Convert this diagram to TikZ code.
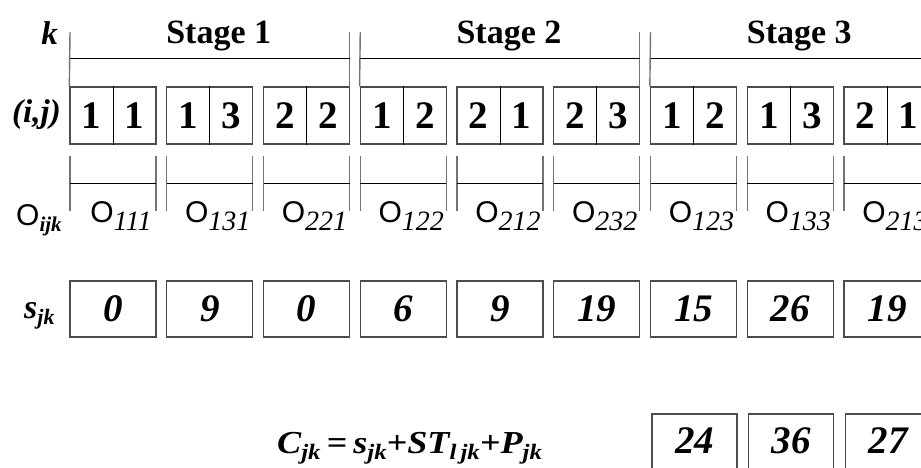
\documentclass[tikz,border=0pt]{standalone}
\usepackage{fontspec}
\setmainfont{Liberation Serif}
\newfontfamily\sansfam{Liberation Sans}
\newcommand\fsz[1]{\fontsize{#1}{#1}\selectfont}
\newcommand\lowsub[3]{\raisebox{-#1pt}{\fsz{#2}#3}}
\begin{document}
\begin{tikzpicture}[x=1pt,y=-1pt,
  boxline/.style={draw=black!70, line width=1.3pt},
  ijbox/.style={boxline, minimum width=86pt, minimum height=57pt, inner sep=0pt},
  valbox/.style={boxline, minimum width=86pt, minimum height=56pt, inner sep=0pt},
  cbox/.style={boxline, minimum width=85pt, minimum height=80pt, inner sep=0pt},
  divider/.style={draw=black, line width=0.8pt},
  vline/.style={draw=black!55, line width=1.4pt},
  hline/.style={draw=black, line width=0.9pt},
  digit/.style={inner sep=0pt, font=\fsz{39}\bfseries},
  valnum/.style={inner sep=0pt, font=\fsz{39}\bfseries\itshape},
  stagetext/.style={inner sep=0pt, anchor=base, font=\fsz{34}\bfseries},
  olabel/.style={inner sep=0pt, anchor=base},
  rowlabel/.style={inner sep=0pt, font=\fsz{33}\bfseries\itshape}]
\useasboundingbox (0,0) rectangle (921,467);
\clip (0,0) rectangle (921,467);
% row labels
\node[rowlabel] (labk) at (49.5,33.5) {k};
\node[rowlabel] (labij) at (36.5,115) {(i,j)};
\node[olabel, anchor=base west] (labO) at (16,225) {\sansfam\fsz{30}O\lowsub{6}{21}{\rmfamily\bfseries\itshape ijk}};
\node[olabel, anchor=base west] (labs) at (24,318) {\fsz{34}\bfseries\itshape s\lowsub{6}{22}{jk}};
% columns
\foreach \i/\a/\b/\o/\s in {0/1/1/111/0, 1/1/3/131/9, 2/2/2/221/0, 3/1/2/122/6, 4/2/1/212/9, 5/2/3/232/19, 6/1/2/123/15, 7/1/3/133/26, 8/2/1/213/19}{
  \pgfmathsetmacro\xl{70+96.75*\i}
  \pgfmathsetmacro\xc{\xl+43}
  \node[ijbox] (ij\i) at (\xc,115.5) {};
  \draw[divider] (ij\i.north) -- (ij\i.south);
  \node[digit] (ija\i) at (\xc-21.5,115.5) {\a};
  \node[digit] (ijb\i) at (\xc+21.5,115.5) {\b};
  \coordinate (ot\i) at (\xl,156);
  \coordinate (ob\i) at (\xl,211);
  \coordinate (otr\i) at (\xl+86,156);
  \coordinate (obr\i) at (\xl+86,211);
  \coordinate (om\i) at (\xl,183);
  \coordinate (omr\i) at (\xl+86,183);
  \draw[vline] (ot\i) -- (ob\i);
  \draw[vline] (otr\i) -- (obr\i);
  \draw[hline] (om\i) -- (omr\i);
  \node[olabel] (olab\i) at (\xc+8,222) {\sansfam\fsz{30}O\lowsub{8}{28}{\rmfamily\itshape\o}};
  \node[valbox] (s\i) at (\xc,309) {};
  \node[valnum] (sv\i) at (\xc,309) {\s};
}
% stage brackets
\foreach \k/\n in {0/1, 3/2, 6/3}{
  \pgfmathsetmacro\xl{70+96.75*\k}
  \pgfmathsetmacro\xr{\xl+96.75*2+86}
  \coordinate (st\n) at (\xl,32);
  \coordinate (str\n) at (\xr,32);
  \coordinate (sb\n) at (\xr,87);
  \coordinate (sh\n) at (\xl,58);
  \coordinate (shr\n) at (\xr,58);
  \draw[vline] (st\n) -- (ij\k.north west);
  \draw[vline] (str\n) -- (sb\n);
  \draw[hline] (sh\n) -- (shr\n);
  \node[stagetext] (stage\n) at ({(\xl+\xr)/2+9},43) {Stage \n};
}
% completion times
\foreach \i/\c in {6/24, 7/36, 8/27}{
  \pgfmathsetmacro\xc{70+96.75*\i+43}
  \node[cbox] (c\i) at (\xc+1,454) {};
  \node[valnum] (cv\i) at (\xc+1,441) {\c};
}
\node[inner sep=0pt, anchor=base west] (formula) at (277,453) {\scalebox{1.13}[1]{\fsz{32}\bfseries\itshape C\lowsub{6}{22}{jk}\,=\,s\lowsub{6}{22}{jk}+ST\lowsub{6}{22}{l\,jk}+P\lowsub{6}{22}{jk}}};
\end{tikzpicture}
\end{document}
